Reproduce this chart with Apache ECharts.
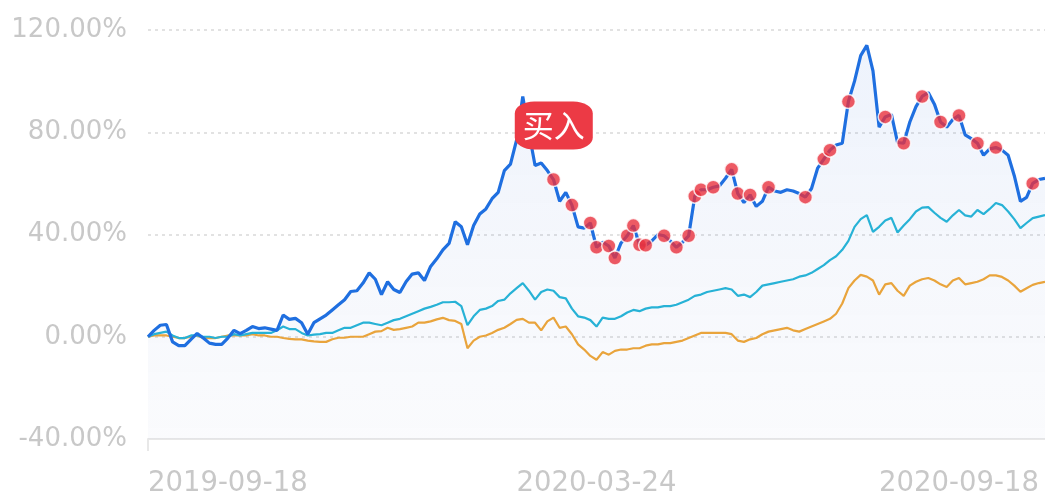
<!DOCTYPE html>
<html><head><meta charset="utf-8">
<script src="https://cdn.jsdelivr.net/npm/echarts@6/dist/echarts.min.js"></script>
<style>html,body{margin:0;padding:0;background:#fff;}#c{width:1045px;height:498px;}</style>
</head><body><div id="c"></div>
<script>
const dates = ['2019-08-13','2019-08-15','2019-08-19','2019-08-21','2019-08-23','2019-08-27','2019-08-29','2019-09-02','2019-09-04','2019-09-06',
'2019-09-10','2019-09-12','2019-09-16','2019-09-18','2019-09-20','2019-09-24','2019-09-26','2019-09-30','2019-10-09','2019-10-11',
'2019-10-15','2019-10-17','2019-10-21','2019-10-23','2019-10-25','2019-10-29','2019-10-31','2019-11-04','2019-11-06','2019-11-08',
'2019-11-12','2019-11-14','2019-11-18','2019-11-20','2019-11-22','2019-11-26','2019-11-28','2019-12-02','2019-12-04','2019-12-06',
'2019-12-10','2019-12-12','2019-12-16','2019-12-18','2019-12-20','2019-12-24','2019-12-26','2019-12-30','2020-01-03','2020-01-07',
'2020-01-09','2020-01-13','2020-01-15','2020-01-17','2020-01-21','2020-01-23','2020-02-04','2020-02-06','2020-02-10','2020-02-12',
'2020-02-14','2020-02-18','2020-02-20','2020-02-24','2020-02-26','2020-02-28','2020-03-03','2020-03-05','2020-03-09','2020-03-11',
'2020-03-13','2020-03-17','2020-03-20','2020-03-24','2020-03-26','2020-03-30','2020-04-01','2020-04-03','2020-04-08','2020-04-10',
'2020-04-14','2020-04-16','2020-04-20','2020-04-22','2020-04-24','2020-04-28','2020-05-06','2020-05-08','2020-05-12','2020-05-14',
'2020-05-18','2020-05-20','2020-05-22','2020-05-26','2020-05-28','2020-06-01','2020-06-03','2020-06-05','2020-06-09','2020-06-11',
'2020-06-15','2020-06-17','2020-06-19','2020-06-23','2020-06-29','2020-07-01','2020-07-03','2020-07-07','2020-07-09','2020-07-13',
'2020-07-15','2020-07-17','2020-07-21','2020-07-23','2020-07-27','2020-07-29','2020-07-31','2020-08-04','2020-08-06','2020-08-10',
'2020-08-12','2020-08-14','2020-08-18','2020-08-20','2020-08-24','2020-08-26','2020-08-28','2020-09-01','2020-09-03','2020-09-07',
'2020-09-10','2020-09-14','2020-09-18','2020-09-22','2020-09-24','2020-09-28','2020-09-30','2020-10-12','2020-10-14','2020-10-16',
'2020-10-20','2020-10-22','2020-10-26','2020-10-28','2020-10-30','2020-11-03','2020-11-05'];

const shownDates = ['2019-09-18','2020-03-24','2020-09-18'];

const fund = [0,2.5,4.5,4.8,-2,-3.5,-3.5,-1,1.3,-0.5,
-2.5,-3,-3,-0.5,2.5,1.2,2.5,4,3.2,3.5,
3,2.5,8.5,6.8,7.2,5.5,1,5.5,7,8.5,
10.5,12.5,14.5,17.7,18,21,25,22.5,16.5,21.5,
18.5,17.3,21.5,24.5,25,22,27.5,30.5,34,36.5,
45,43,36,43.5,48,50,54,56.5,65,67.5,
77,94,80,67,68,65,61.5,53,56.5,51.5,
43,42.5,44.5,35,37,35.5,30.8,36.7,39.5,43.5,
36,35.8,37.5,40,39.5,37.5,35,37,39.5,55,
57.5,57.5,58.5,59,62,65.5,56,52.5,55.5,51,
53,58.5,57,56.5,57.5,57,56,54.6,58,66,
69.5,73,75,75.7,92,100,110,114,104,82,
86,87,76,75.7,84,90,94,95.5,91,84,
82,85,86.6,79,77.5,75.7,71,73.5,74,73,
71,63,53,54.5,60,61.5,62];

const index1 = [0,1,1.5,2,0.5,-0.5,-0.5,0.5,0.5,0,
0,-0.5,0,0,1,0.5,1,1.5,1.5,1.5,
1.5,2.5,4,3,3,1.5,0.5,0.8,1,1.5,
1.5,2.5,3.5,3.5,4.5,5.5,5.5,5,4.5,5.5,
6.5,7,8,9,10,11,11.7,12.5,13.5,13.5,
13.7,12,4.5,8,10.5,11,12,14,14.5,17,
19,21,18,14.5,17.5,18.5,18,15.5,15,11,
8,7.5,6.5,4,7.5,7,7,8,9.5,10.5,
10,11,11.5,11.5,12,12,12.5,13.5,14.5,16,
16.5,17.5,18,18.5,19,18.5,16,16.5,15.5,17.5,
20,20.5,21,21.5,22,22.5,23.5,24,25,26.5,
28,30,31.5,34,37.5,43,46,47.6,41,43,
45.5,46.5,40.8,43.5,46,49,50.5,50.7,48.5,46.5,
45,47.5,49.6,47.5,47,49.6,48,50,52.3,51.5,
49,46,42.5,44.5,46.4,47,47.6];

const index2 = [0,0.5,0.5,0.5,0,-0.5,-0.5,0,0.5,-0.5,
-0.5,-0.5,0,0.5,0.5,0.5,0.5,1,0.5,0.5,
0,0,-0.5,-0.8,-1,-1,-1.5,-1.8,-2,-2,
-1,-0.4,-0.4,0,0,0,1,2,2.2,3.5,
2.7,3,3.5,4,5.5,5.5,6,6.8,7.4,6.5,
6.2,5,-4.5,-1.5,0,0.5,1.5,2.7,3.5,5,
6.6,7,5.5,5.5,2.5,6,7.5,3.5,4,1,
-3,-5,-7.5,-9,-6,-7,-5.5,-5,-5,-4.5,
-4.5,-3.5,-3,-3,-2.5,-2.5,-2,-1.5,-0.5,0.5,
1.5,1.5,1.5,1.5,1.5,1,-1.5,-2,-1,-0.5,
1,2,2.5,3,3.5,2.5,2,3,4,5,
6,7,9,13,19,22,24.2,23.5,22,16.5,
20.5,21,18,16,20,21.5,22.5,23,22,20.5,
19.5,22,23,20.5,21,21.5,22.5,24,24,23.4,
22,20,17.6,19,20.3,21,21.5];

const buyIdx = [66,69,72,73,75,76,78,79,80,81,84,86,88,89,90,92,95,96,98,101,107,110,111,114,120,123,126,129,132,135,138,144];
const markIdx = 61;
const markText = '买入';

const chart = echarts.init(document.getElementById('c'));
const lblColor = '#c8c8c8';
chart.setOption({
  animation: false,
  grid: {left: 148, right: 0, top: 30, bottom: 58.5},
  xAxis: {
    type: 'category', data: dates, boundaryGap: false,
    axisLine: {onZero: false, lineStyle: {color: '#e8e8e8', width: 2}},
    axisTick: {show: true, length: 12, lineStyle: {color: '#e8e8e8', width: 2}, interval: (i) => i === 0},
    axisLabel: {interval: (i, v) => shownDates.includes(v), color: lblColor, fontSize: 27.5, fontFamily: 'DejaVu Sans', margin: 31},
    splitLine: {show: false}
  },
  yAxis: {
    type: 'value', min: -40, max: 120, interval: 40,
    axisLine: {show: false}, axisTick: {show: false},
    axisLabel: {color: lblColor, fontSize: 26, fontFamily: 'DejaVu Sans', margin: 21, formatter: v => v.toFixed(2) + '%'},
    splitLine: {lineStyle: {color: '#e2e2e2', type: [3, 4], width: 2}}
  },
  series: [
    {type: 'line', data: fund, showSymbol: false, lineStyle: {width: 0},
     areaStyle: {origin: 'start', color: new echarts.graphic.LinearGradient(0, 0, 0, 1, [
       {offset: 0, color: 'rgba(60,120,225,0.13)'}, {offset: 1, color: 'rgba(120,140,200,0.05)'}])}, z: 1},
    {type: 'line', data: index2, showSymbol: false, lineStyle: {width: 2.2, color: '#e9a43c'}, z: 2},
    {type: 'line', data: index1, showSymbol: false, lineStyle: {width: 2.2, color: '#27b2d6'}, z: 3},
    {type: 'line', data: fund, showSymbol: false, lineStyle: {width: 3.2, color: '#1f6fe0'}, z: 4,
     markPoint: {
       symbol: 'roundRect', symbolSize: [78, 48], symbolOffset: [31, 29],
       itemStyle: {color: '#ec3a45'},
       label: {show: true, position: 'inside', formatter: markText, color: '#fff', fontSize: 31, fontFamily: 'Noto Sans CJK SC'},
       data: [{coord: [markIdx, fund[markIdx]]}]
     }},
    {type: 'scatter', data: buyIdx.map(i => [i, fund[i]]), symbolSize: 14, z: 5,
     itemStyle: {color: '#e8313d', borderColor: '#fff', borderWidth: 1.5}}
  ]
});
</script></body></html>
